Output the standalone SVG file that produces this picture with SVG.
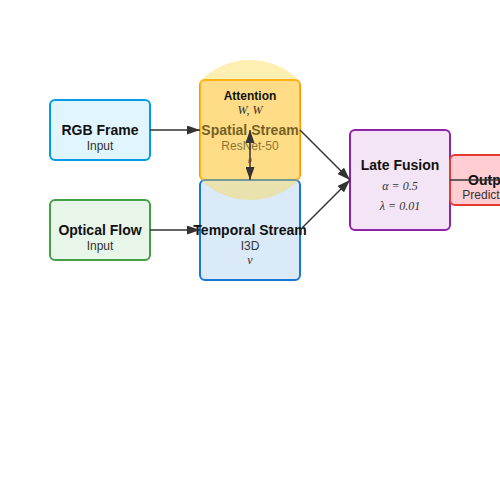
<svg xmlns="http://www.w3.org/2000/svg" width="500" height="500" viewBox="0 0 500 500">
<defs>
<marker id="arr" markerUnits="userSpaceOnUse" markerWidth="13" markerHeight="9" refX="13" refY="4.5" orient="auto-start-reverse"><path d="M0,0 L13,4.5 L0,9 Z" fill="#333"/></marker>
<clipPath id="col"><rect x="200" y="0" width="100" height="500"/></clipPath>
<style>
.box{stroke-width:2}
.t{font-family:"Liberation Sans",Arial,sans-serif;text-anchor:middle;fill:#111}
.b{font-weight:bold;font-size:14px}
.s{font-size:12px;fill:#333}
.m{font-family:"Liberation Serif","Times New Roman",serif;font-style:italic;font-size:12px;text-anchor:middle;fill:#333}
.c{stroke:#333;stroke-width:1.5;fill:none}
</style>
</defs>
<rect width="500" height="500" fill="#fff"/>
<g id="rgb">
<rect class="box" x="50" y="100" width="100" height="60" rx="5" fill="#e1f5fe" stroke="#039be5"/>
<text class="t b" x="100" y="135">RGB Frame</text>
<text class="t s" x="100" y="150">Input</text>
</g>
<g id="flow">
<rect class="box" x="50" y="200" width="100" height="60" rx="5" fill="#e8f5e9" stroke="#43a047"/>
<text class="t b" x="100" y="235">Optical Flow</text>
<text class="t s" x="100" y="250">Input</text>
</g>
<g id="spatial">
<rect class="box" x="200" y="80" width="100" height="100" rx="5" fill="#ffe0b2" stroke="#ff9800"/>
<text class="t b" x="250" y="135">Spatial Stream</text>
<text class="t s" x="250" y="150">ResNet-50</text>
</g>
<g id="temporal">
<rect class="box" x="200" y="180" width="100" height="100" rx="5" fill="#dbeaf9" stroke="#1976d2"/>
<text class="t b" x="250" y="235">Temporal Stream</text>
<text class="t s" x="250" y="250">I3D</text>
<text class="m" x="250" y="264">v</text>
</g>
<g id="attention">
<circle cx="250" cy="130" r="70" fill="#ffd640" fill-opacity="0.4" clip-path="url(#col)"/>
<text class="t" x="250" y="100" style="font-weight:bold;font-size:12px">Attention</text>
<text class="m" x="250" y="114">W, W</text>
</g>
<g id="fusion">
<rect class="box" x="350" y="130" width="100" height="100" rx="5" fill="#f3e5f5" stroke="#8e24aa"/>
<text class="t b" x="400" y="170">Late Fusion</text>
<text class="m" x="400" y="190">α = 0.5</text>
<text class="m" x="400" y="210">λ = 0.01</text>
</g>
<g id="output">
<rect class="box" x="450" y="155" width="82" height="50" rx="5" fill="#ffcdd2" stroke="#e53935"/>
<text class="t b" x="491" y="185">Output</text>
<text class="t s" x="492" y="199">Predictions</text>
</g>
<g id="connectors">
<line class="c" x1="150" y1="130" x2="200" y2="130" marker-end="url(#arr)"/>
<line class="c" x1="150" y1="230" x2="200" y2="230" marker-end="url(#arr)"/>
<line class="c" x1="250" y1="130" x2="250" y2="180" marker-start="url(#arr)" marker-end="url(#arr)"/>
<text class="m" x="250" y="162" style="font-size:7px">β</text>
<line class="c" x1="300" y1="130" x2="350" y2="180" marker-end="url(#arr)"/>
<line class="c" x1="300" y1="230" x2="350" y2="180" marker-end="url(#arr)"/>
<line class="c" x1="450" y1="180" x2="520" y2="180"/>
</g>
</svg>
